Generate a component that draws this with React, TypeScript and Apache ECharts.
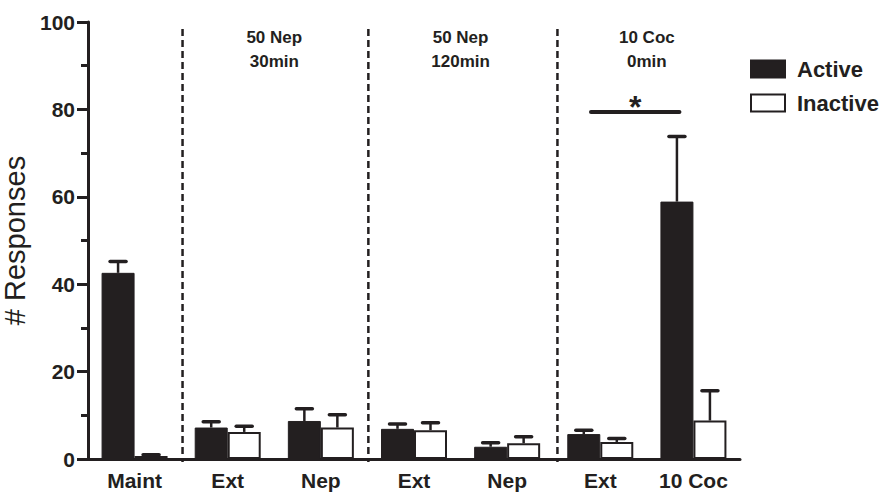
import React, { useEffect, useRef } from "react";
import * as echarts from "echarts";

const categories = ["Maint", "Ext", "Nep", "Ext", "Nep", "Ext", "10 Coc"];
const activeMean = [42.6, 7.2, 8.7, 6.9, 2.8, 5.7, 58.9];
const activeSem = [2.6, 1.3, 2.8, 1.1, 0.9, 0.9, 14.9];
const inactiveMean = [0.7, 6.2, 7.2, 6.6, 3.6, 3.9, 8.8];
const inactiveSem = [0.3, 1.3, 2.9, 1.7, 1.5, 0.8, 6.8];
const yTicks = [0, 20, 40, 60, 80, 100];

// annotation positions on a hidden value axis (0..7, category i centre at i+0.5)
const dividerX = [1.015, 3.01, 5.04];
const dividerRange = [98.4, -0.7];
const groupCenters = [2, 4, 6];
const groupLabels = ["50 Nep\n30min", "50 Nep\n120min", "10 Coc\n0min"];
const groupLabelY = 93.6;
const sigBar = [5.4, 6.35, 79.4];
const sigStarY = 80.6;

const INK = "#231f20";
const FONT = "Arial, 'Liberation Sans', sans-serif";
const BAR_W = 33;

function errorRenderer(offset: number) {
  return (params: any, api: any) => {
    const x = api.value(0);
    const v = api.value(1);
    const e = api.value(2);
    const base = api.coord([x, v]);
    const top = api.coord([x, v + e]);
    const cx = base[0] + offset;
    return {
      type: "group",
      children: [
        { type: "line", shape: { x1: cx, y1: base[1], x2: cx, y2: top[1] }, style: { stroke: INK, lineWidth: 2.5 } },
        { type: "line", shape: { x1: cx - 8, y1: top[1], x2: cx + 8, y2: top[1] }, style: { stroke: INK, lineWidth: 3.5, lineCap: "round" } },
      ],
    };
  };
}

export default function App() {
  const ref = useRef<HTMLDivElement>(null);
  useEffect(() => {
    document.body.style.margin = "0";
    const chart = echarts.init(ref.current!, null, { renderer: "svg" });
    chart.setOption({
      animation: false,
      backgroundColor: "#ffffff",
      textStyle: { fontFamily: FONT },
      legend: {
        orient: "vertical",
        left: 745,
        top: 53,
        itemWidth: 34,
        itemHeight: 17,
        itemGap: 12,
        selectedMode: false,
        icon: "rect",
        data: ["Active", "Inactive"],
        textStyle: { fontSize: 22, fontWeight: "bold", color: INK, fontFamily: FONT, padding: [0, 0, 0, 7] },
      },
      grid: { left: 88, top: 22, width: 652, height: 437, containLabel: false, outerBoundsMode: "none" },
      xAxis: [
        {
          type: "category",
          data: categories,
          axisLine: { lineStyle: { color: INK, width: 3 } },
          axisTick: { alignWithLabel: true, length: 9, lineStyle: { color: INK, width: 3 }, interval: 0 },
          axisLabel: { interval: 0, color: INK, fontSize: 21, fontWeight: "bold", fontFamily: FONT, margin: 11 },
          splitLine: { show: false },
        },
        { type: "value", min: 0, max: 7, show: false, splitLine: { show: false } },
      ],
      yAxis: {
        type: "value",
        min: 0,
        max: 100,
        interval: 20,
        name: "# Responses",
        nameLocation: "middle",
        nameGap: 54,
        nameTextStyle: { fontSize: 29, color: INK, fontFamily: FONT },
        axisLine: { show: true, lineStyle: { color: INK, width: 3 } },
        axisTick: { show: true, length: 11, lineStyle: { color: INK, width: 3 } },
        minorTick: { show: true, splitNumber: 2, length: 7, lineStyle: { color: INK, width: 3 } },
        axisLabel: {
          color: INK,
          fontSize: 21,
          fontWeight: "bold",
          fontFamily: FONT,
          margin: 13,
          formatter: (v: number) => (yTicks.includes(v) ? String(v) : ""),
        },
        splitLine: { show: false },
      },
      series: [
        {
          name: "Active",
          type: "bar",
          data: activeMean,
          barWidth: BAR_W,
          barGap: "0%",
          itemStyle: { color: INK, borderColor: INK, borderWidth: 1 },
          z: 2,
        },
        {
          name: "Inactive",
          type: "bar",
          data: inactiveMean,
          barWidth: BAR_W,
          barGap: "0%",
          itemStyle: { color: "#ffffff", borderColor: INK, borderWidth: 2 },
          z: 2,
        },
        {
          type: "custom",
          renderItem: errorRenderer(-BAR_W / 2),
          data: categories.map((_, i) => [i, activeMean[i], activeSem[i]]),
          z: 3,
          silent: true,
        },
        {
          type: "custom",
          renderItem: errorRenderer(BAR_W / 2),
          data: categories.map((_, i) => [i, inactiveMean[i], inactiveSem[i]]),
          z: 3,
          silent: true,
        },
        {
          type: "custom",
          xAxisIndex: 1,
          renderItem: (params: any, api: any) => {
            const a = api.coord([api.value(0), api.value(1)]);
            const b = api.coord([api.value(0), api.value(2)]);
            return {
              type: "line",
              shape: { x1: a[0], y1: a[1], x2: b[0], y2: b[1] },
              style: { stroke: INK, lineWidth: 2.5, lineDash: [7, 4] },
            };
          },
          data: dividerX.map((x) => [x, dividerRange[0], dividerRange[1]]),
          z: 1,
          silent: true,
        },
        {
          type: "custom",
          xAxisIndex: 1,
          renderItem: (params: any, api: any) => {
            const p = api.coord([api.value(0), api.value(1)]);
            return {
              type: "text",
              x: p[0],
              y: p[1],
              style: {
                text: groupLabels[params.dataIndex],
                fill: INK,
                fontSize: 17,
                fontWeight: "bold",
                fontFamily: FONT,
                align: "center",
                verticalAlign: "middle",
                lineHeight: 24,
              },
            };
          },
          data: groupCenters.map((x) => [x, groupLabelY]),
          z: 4,
          silent: true,
        },
        {
          type: "custom",
          xAxisIndex: 1,
          renderItem: (params: any, api: any) => {
            const a = api.coord([api.value(0), api.value(2)]);
            const b = api.coord([api.value(1), api.value(2)]);
            const s = api.coord([(api.value(0) + api.value(1)) / 2, api.value(3)]);
            return {
              type: "group",
              children: [
                { type: "line", shape: { x1: a[0], y1: a[1], x2: b[0], y2: b[1] }, style: { stroke: INK, lineWidth: 4, lineCap: "round" } },
                {
                  type: "text",
                  x: s[0],
                  y: s[1],
                  style: { text: "*", fill: INK, fontSize: 32, fontWeight: "bold", fontFamily: FONT, align: "center", verticalAlign: "middle" },
                },
              ],
            };
          },
          data: [[sigBar[0], sigBar[1], sigBar[2], sigStarY]],
          z: 4,
          silent: true,
        },
      ],
    });
    return () => chart.dispose();
  }, []);
  return <div ref={ref} style={{ position: "fixed", left: 0, top: 0, width: 883, height: 492 }} />;
}
